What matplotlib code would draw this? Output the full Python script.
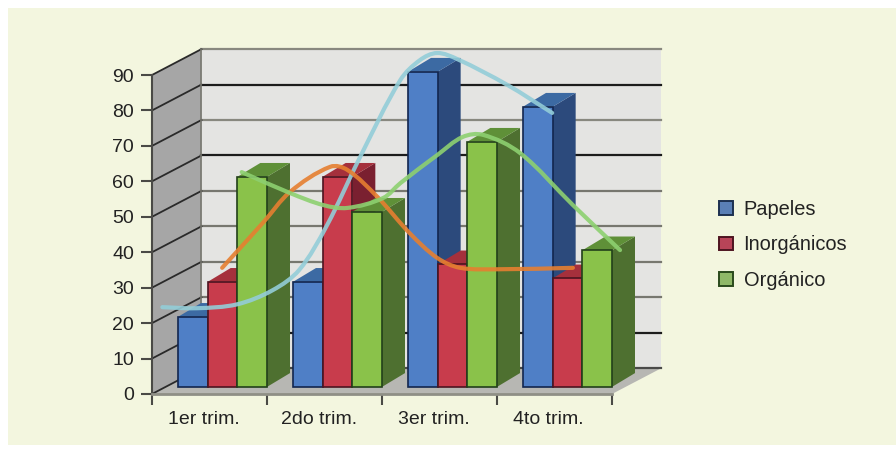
import math
import matplotlib.pyplot as plt
from matplotlib.patches import Polygon, PathPatch, Patch, Rectangle
from matplotlib.path import Path

plt.rcParams["font.family"] = ["Liberation Sans", "DejaVu Sans"]

categories = ["1er trim.", "2do trim.", "3er trim.", "4to trim."]
papeles = [20, 30, 90, 80]
inorganicos = [30, 60, 35, 31]
organico = [60, 50, 70, 39]
y_ticks = [0, 10, 20, 30, 40, 50, 60, 70, 80, 90]

# hand drawn curves on top of the bars
blue_x = [0.09, 0.39, 0.74, 1.05, 1.28, 1.52, 1.81, 2.16, 2.33, 2.48, 2.66, 3.09, 3.48]
blue_y = [24.5, 24.2, 25.3, 29.3, 35.0, 47.5, 66.9, 88.6, 94.2, 96.2, 94.4, 87.2, 79.3]
orange_x = [0.61, 0.97, 1.20, 1.55, 1.70, 1.96, 2.24, 2.48, 2.68, 3.03, 3.66]
orange_y = [35.6, 48.5, 57.0, 64.1, 63.2, 55.6, 45.4, 38.4, 35.6, 35.2, 35.6]
green_x = [0.78, 1.20, 1.49, 1.70, 2.01, 2.16, 2.48, 2.70, 2.88, 3.20, 3.66, 4.07]
green_y = [62.6, 56.7, 53.3, 52.5, 55.3, 59.5, 67.4, 72.5, 73.1, 68.0, 53.3, 40.6]

# grid colours differ per level in the reference
grid_colors = ["#4a4a48", "#1c1c1c", "#77776f", "#77776f", "#77776f",
               "#77776f", "#1c1c1c", "#88887f", "#1c1c1c", "#88887f"]

WALL_DX = 0.43
WALL_DY = 7.3
BAR_DX = 0.2
BAR_DY = 3.9
BAR_BASE = 2.0
BAR_W = 0.258
BAR_START = 0.226
BAR_SCALE = 0.988
Y_PER_X = 32.4  # one category is as wide on screen as this many value units


def poly(ax, pts, color, edge="none", lw=0.0, z=1):
    ax.add_patch(Polygon(pts, closed=True, facecolor=color, edgecolor=edge,
                         linewidth=lw, zorder=z, clip_on=False))


def prism(ax, x, value, front, side, top, edge):
    y0 = BAR_BASE
    y1 = BAR_BASE + value * BAR_SCALE
    x1 = x + BAR_W
    poly(ax, [(x1, y0), (x1 + BAR_DX, y0 + BAR_DY), (x1 + BAR_DX, y1 + BAR_DY), (x1, y1)], side, z=3)
    poly(ax, [(x, y1), (x1, y1), (x1 + BAR_DX, y1 + BAR_DY), (x + BAR_DX, y1 + BAR_DY)], top, z=3)
    poly(ax, [(x, y0), (x1, y0), (x1, y1), (x, y1)], front, edge=edge, lw=1.2, z=3)


def dist(a, b):
    return math.hypot(b[0] - a[0], (b[1] - a[1]) / Y_PER_X)


def tangent(pts, i):
    a = pts[max(i - 1, 0)]
    b = pts[min(i + 1, len(pts) - 1)]
    d = dist(a, b)
    return (b[0] - a[0]) / d, (b[1] - a[1]) / d


def smooth_line(ax, xs, ys, color):
    # bezier handles from the read points, the curve itself is drawn by matplotlib
    pts = list(zip(xs, ys))
    verts = [pts[0]]
    codes = [Path.MOVETO]
    for i in range(len(pts) - 1):
        p1, p2 = pts[i], pts[i + 1]
        h = dist(p1, p2) / 3
        t1 = tangent(pts, i)
        t2 = tangent(pts, i + 1)
        verts.append((p1[0] + t1[0] * h, p1[1] + t1[1] * h))
        verts.append((p2[0] - t2[0] * h, p2[1] - t2[1] * h))
        verts.append(p2)
        codes += [Path.CURVE4] * 3
    ax.add_patch(PathPatch(Path(verts, codes), facecolor="none", edgecolor=color,
                           linewidth=3.0, alpha=0.9, capstyle="round", zorder=5, clip_on=False))


fig = plt.figure(figsize=(8.96, 4.5), dpi=100, facecolor="white")
fig.add_artist(Rectangle((8 / 896, 5 / 450), 888 / 896, 437 / 450, transform=fig.transFigure,
                         facecolor="#f3f6df", edgecolor="none", zorder=-1))

ax = fig.add_axes([152 / 896, 56 / 450, 460 / 896, 319 / 450])
ax.patch.set_alpha(0)
ax.set_xlim(0, 4)
ax.set_ylim(0, 90)

# walls and floor
top = y_ticks[-1]
poly(ax, [(WALL_DX, WALL_DY), (4 + WALL_DX, WALL_DY), (4 + WALL_DX, top + WALL_DY), (WALL_DX, top + WALL_DY)], "#e4e4e2")
poly(ax, [(0, 0), (WALL_DX, WALL_DY), (WALL_DX, top + WALL_DY), (0, top)], "#a6a6a6")
poly(ax, [(0, 0), (4, 0), (4 + WALL_DX, WALL_DY), (WALL_DX, WALL_DY)], "#b7b7b3")
for tick, c in zip(y_ticks, grid_colors):
    ax.plot([WALL_DX, 4 + WALL_DX], [tick + WALL_DY, tick + WALL_DY], color=c, lw=1.6, zorder=2, clip_on=False)
    ax.plot([0, WALL_DX], [tick, tick + WALL_DY], color="#2a2a2a", lw=1.3, zorder=2, clip_on=False)
ax.plot([WALL_DX, WALL_DX], [WALL_DY, top + WALL_DY], color="#77776f", lw=1.2, zorder=2, clip_on=False)

# bars
for i in range(len(categories)):
    x = i + BAR_START
    prism(ax, x, papeles[i], "#4f7fc6", "#2c4a7c", "#3c6aa3", "#12264f")
    prism(ax, x + BAR_W, inorganicos[i], "#c83c4c", "#7a2030", "#a5303c", "#4d1420")
    prism(ax, x + 2 * BAR_W, organico[i], "#8ac24a", "#4e7030", "#5f9038", "#22401a")

smooth_line(ax, blue_x, blue_y, "#93cdd8")
smooth_line(ax, orange_x, orange_y, "#e67f30")
smooth_line(ax, green_x, green_y, "#8dd070")

for side in ["top", "right"]:
    ax.spines[side].set_visible(False)
ax.spines["left"].set_color("#4a4a46")
ax.spines["left"].set_linewidth(1.5)
ax.spines["bottom"].set_color("#8f8f86")
ax.spines["bottom"].set_linewidth(2.0)

ax.set_yticks(y_ticks)
ax.set_xticks(range(len(categories) + 1))
ax.set_xticklabels([])
ax.set_xticks([i + 0.45 for i in range(len(categories))], categories, minor=True)
ax.tick_params(axis="y", length=8, width=1.5, color="#4a4a46", labelsize=14, pad=5, labelcolor="#222222")
ax.tick_params(axis="x", which="major", length=8, width=1.5, color="#4a4a46")
ax.tick_params(axis="x", which="minor", length=0, labelsize=14, pad=12, labelcolor="#222222")

handles = [
    Patch(facecolor="#5a7fb5", edgecolor="#1d3050", linewidth=1.4),
    Patch(facecolor="#b84458", edgecolor="#4d1420", linewidth=1.4),
    Patch(facecolor="#8fb868", edgecolor="#2a4a1c", linewidth=1.4),
]
fig.legend(handles, ["Papeles", "Inorgánicos", "Orgánico"], loc="center left",
           bbox_to_anchor=(701 / 896, 1 - 245 / 450), frameon=False, fontsize=14.4,
           handlelength=0.68, handleheight=0.68, handletextpad=0.55, labelspacing=0.82,
           labelcolor="#222222")

fig.savefig("out.png", dpi=100)
